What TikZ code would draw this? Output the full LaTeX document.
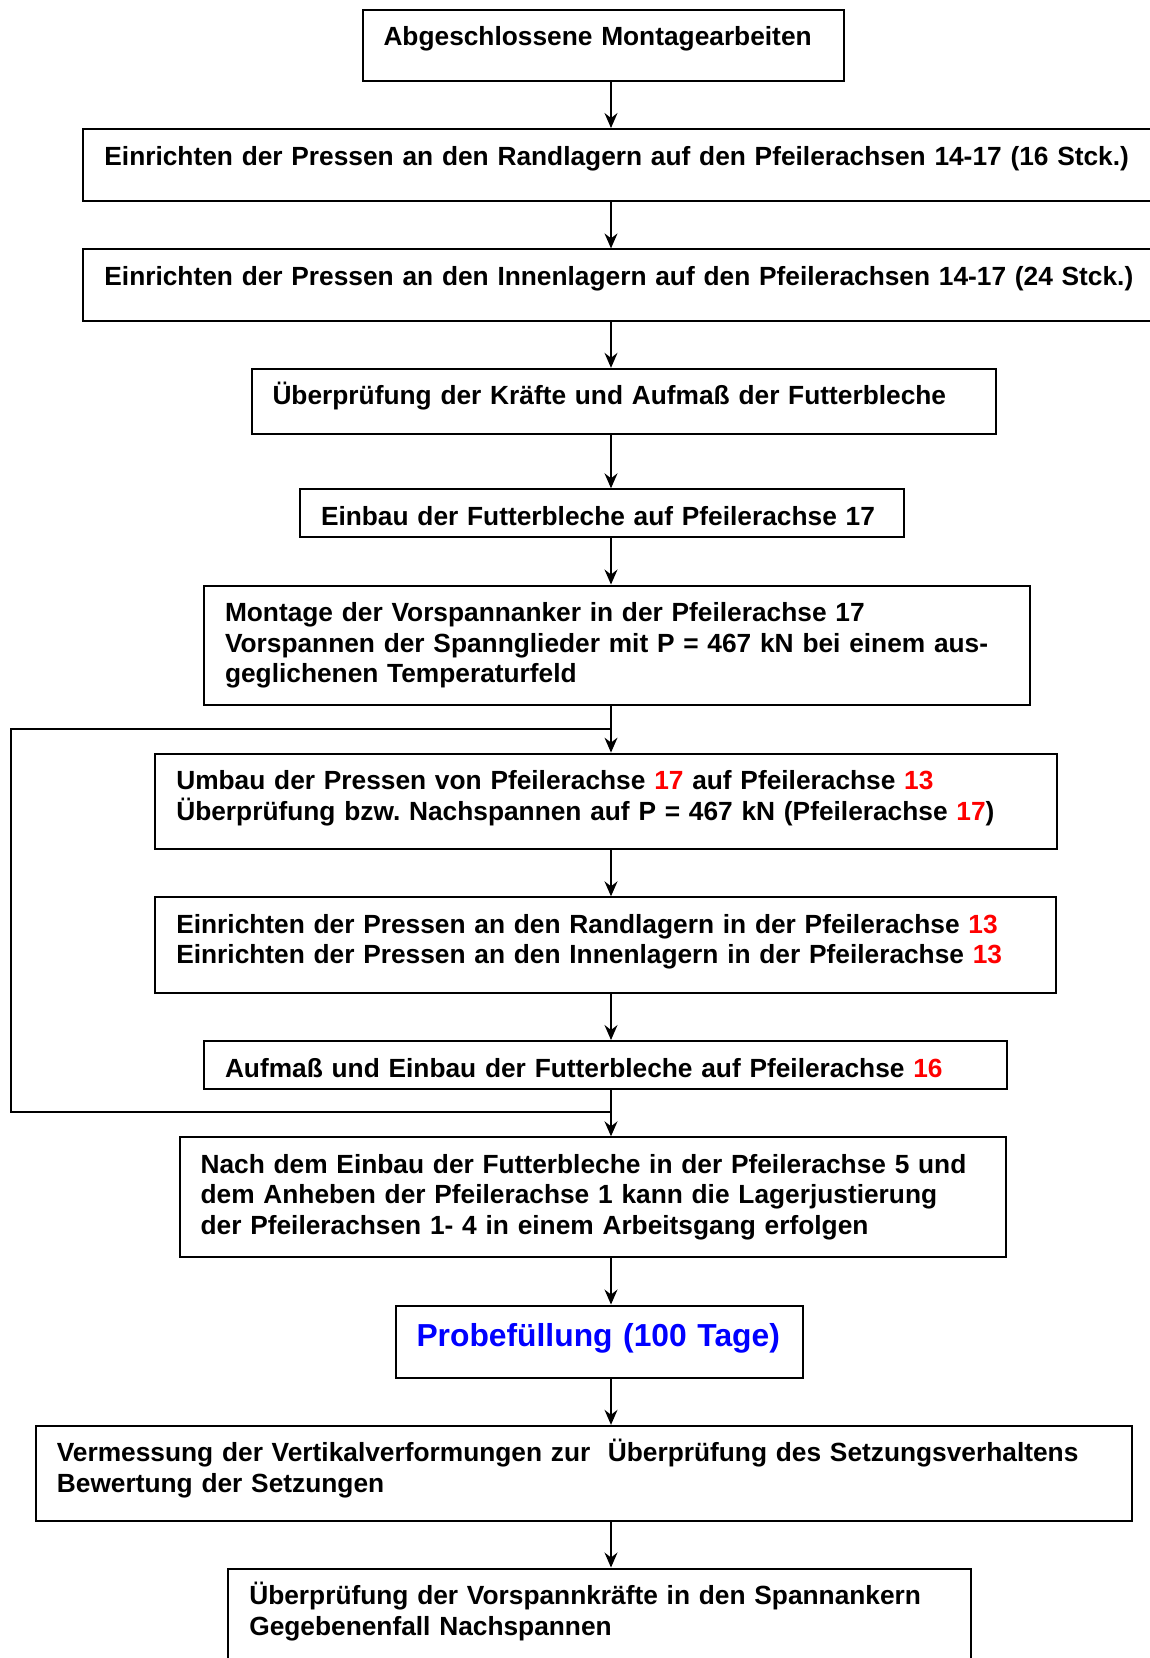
\documentclass[tikz,border=0pt]{standalone}
\usepackage{fontspec}
\setmainfont{Liberation Sans}
\usetikzlibrary{arrows.meta}
\frenchspacing

\tikzset{
  stepbox/.style={draw, line width=2pt, anchor=north west, align=left,
    inner xsep=21pt, inner ysep=0pt, text height=36pt},
  flow/.style={line width=1.3pt, -{Stealth[length=15pt,width=13pt,inset=5pt]}},
  backline/.style={line width=2pt}
}
\newcommand{\rot}[1]{\textcolor{red}{#1}}

\begin{document}
\begin{tikzpicture}[x=1pt, y=-1pt, font=\fontsize{26.3}{30.6}\selectfont\bfseries]
  \useasboundingbox (0,0) rectangle (1150,1658);

  % boxes
  \node[stepbox, text width=439pt, text depth=35pt] (b1) at (361.5,8.5)
    {Abgeschlossene Montagearbeiten};
  \node[stepbox, text width=1058pt, text depth=36pt] (b2) at (82.4,128)
    {Einrichten der Pressen an den Randlagern auf den Pfeilerachsen 14-17 (16 Stck.)};
  \node[stepbox, text width=1058pt, text depth=36pt] (b3) at (82.4,248.4)
    {Einrichten der Pressen an den Innenlagern auf den Pfeilerachsen 14-17 (24 Stck.)};
  \node[stepbox, text width=702pt, text depth=29.6pt] (b4) at (250.5,367.8)
    {Überprüfung der Kräfte und Aufmaß der Futterbleche};
  \node[stepbox, text width=561.7pt, text depth=11.6pt] (b5) at (299,488.3)
    {Einbau der Futterbleche auf Pfeilerachse 17};
  \node[stepbox, text width=783.5pt, text depth=83.5pt] (b6) at (203,584.5)
    {Montage der Vorspannanker in der Pfeilerachse 17\\
     Vorspannen der Spannglieder mit P = 467 kN bei einem aus-\\
     geglichenen Temperaturfeld};
  \node[stepbox, text width=859.7pt, text depth=59.1pt] (b7) at (154.3,752.6)
    {Umbau der Pressen von Pfeilerachse \rot{17} auf Pfeilerachse \rot{13}\\
     Überprüfung bzw. Nachspannen auf P = 467 kN (Pfeilerachse \rot{17})};
  \node[stepbox, text width=858.6pt, text depth=59.2pt] (b8) at (154.3,896.3)
    {Einrichten der Pressen an den Randlagern in der Pfeilerachse \rot{13}\\
     Einrichten der Pressen an den Innenlagern in der Pfeilerachse \rot{13}};
  \node[stepbox, text width=761.3pt, text depth=11.7pt] (b9) at (203,1040)
    {Aufmaß und Einbau der Futterbleche auf Pfeilerachse \rot{16}};
  \node[stepbox, text width=784.6pt, text depth=83.4pt] (b10) at (178.6,1136.3)
    {Nach dem Einbau der Futterbleche in der Pfeilerachse 5 und\\
     dem Anheben der Pfeilerachse 1 kann die Lagerjustierung\\
     der Pfeilerachsen 1- 4 in einem Arbeitsgang erfolgen};
  \node[stepbox, text width=365.5pt, text height=41pt, text depth=31.2pt,
        font=\fontsize{31.8}{36}\selectfont\bfseries, text=blue] (b11) at (394.5,1304.5)
    {Probefüllung (100 Tage)};
  \node[stepbox, text width=1054pt, text depth=59.2pt] (b12) at (34.9,1424.8)
    {Vermessung der Vertikalverformungen zur\ \ Überprüfung des Setzungsverhaltens\\
     Bewertung der Setzungen};
  \node[stepbox, text width=701pt, text depth=64pt] (b13) at (227.3,1567.5)
    {Überprüfung der Vorspannkräfte in den Spannankern\\
     Gegebenenfall Nachspannen};

  % arrows
  \coordinate (ax) at (611,0);
  \draw[flow] (b1.south -| ax) -- (b2.north -| ax);
  \draw[flow] (b2.south -| ax) -- (b3.north -| ax);
  \draw[flow] (b3.south -| ax) -- (b4.north -| ax);
  \draw[flow] (b4.south -| ax) -- (b5.north -| ax);
  \draw[flow] (b5.south -| ax) -- (b6.north -| ax);
  \draw[flow] (b6.south -| ax) -- (b7.north -| ax);
  \draw[flow] (b7.south -| ax) -- (b8.north -| ax);
  \draw[flow] (b8.south -| ax) -- (b9.north -| ax);
  \draw[flow] (b9.south -| ax) -- (b10.north -| ax);
  \draw[flow] (b10.south -| ax) -- (b11.north -| ax);
  \draw[flow] (b11.south -| ax) -- (b12.north -| ax);
  \draw[flow] (b12.south -| ax) -- (b13.north -| ax);

  % loop back on the left
  \coordinate (lt) at (611,728.5);
  \coordinate (lb) at (611,1112);
  \coordinate (ll) at (10.6,0);
  \draw[backline] (lt) -- (lt -| ll) -- (lb -| ll) -- (lb);
\end{tikzpicture}
\end{document}
